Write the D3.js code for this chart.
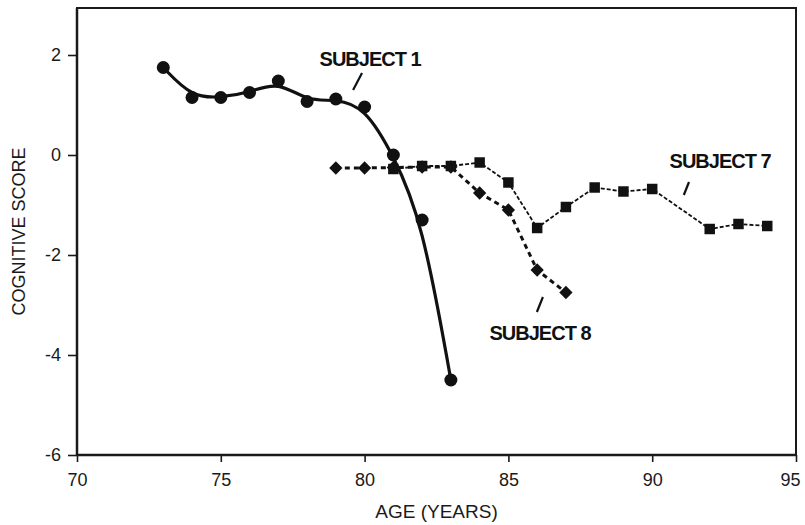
<!DOCTYPE html>
<html>
<head>
<meta charset="utf-8">
<script src="https://cdn.jsdelivr.net/npm/d3@7"></script>
<style>
  html, body { margin: 0; padding: 0; background: #fff; }
  svg { display: block; font-family: "Liberation Sans", Arial, Helvetica, sans-serif; }
</style>
</head>
<body>
<svg id="chart" width="805" height="525"></svg>
<script>
// Axis ticks
const xTicks = [70, 75, 80, 85, 90, 95];
const yTicks = [-6, -4, -2, 0, 2];

// Subject 1: rapid late decline
const subject1Age   = [73, 74, 75, 76, 77, 78, 79, 80, 81, 82, 83];
const subject1Score = [1.75, 1.15, 1.15, 1.25, 1.48, 1.07, 1.12, 0.96, 0.0, -1.3, -4.5];

// Subject 7: long, fluctuating course
const subject7Age   = [81, 82, 83, 84, 85, 86, 87, 88, 89, 90, 92, 93, 94];
const subject7Score = [-0.28, -0.22, -0.22, -0.15, -0.55, -1.46, -1.04, -0.65, -0.73, -0.68, -1.48, -1.38, -1.42];

// Subject 8: stable, then declining
const subject8Age   = [79, 80, 81, 82, 83, 84, 85, 86, 87];
const subject8Score = [-0.26, -0.26, -0.25, -0.24, -0.24, -0.76, -1.1, -2.3, -2.75];

const subjectNames = ["SUBJECT 1", "SUBJECT 7", "SUBJECT 8"];

const svg = d3.select("#chart");
const W = 805, H = 525;
const margin = { top: 8, right: 9, bottom: 70, left: 77 };

const x = d3.scaleLinear().domain([70, 95]).range([margin.left, W - margin.right]);
const y = d3.scaleLinear().domain([-6, 2]).range([H - margin.bottom, 55]);

const zip = (a, b) => a.map((v, i) => ({ age: v, score: b[i] }));
const s1 = zip(subject1Age, subject1Score);
const s7 = zip(subject7Age, subject7Score);
const s8 = zip(subject8Age, subject8Score);

// Frame
svg.append("rect")
  .attr("x", margin.left).attr("y", margin.top)
  .attr("width", W - margin.right - margin.left)
  .attr("height", H - margin.bottom - margin.top)
  .attr("fill", "none").attr("stroke", "#1a1a1a").attr("stroke-width", 2);

// Axes
const yAxis = svg.append("g")
  .attr("transform", `translate(${margin.left},0)`)
  .call(d3.axisLeft(y).tickValues(yTicks).tickSize(9).tickPadding(7).tickSizeOuter(0)
        .tickFormat(d => d < 0 ? "-" + Math.abs(d) : d));
const xAxis = svg.append("g")
  .attr("transform", `translate(0,${H - margin.bottom})`)
  .call(d3.axisBottom(x).tickValues(xTicks).tickSize(7).tickPadding(11).tickSizeOuter(0));

[yAxis, xAxis].forEach(g => {
  g.select(".domain").remove();
  g.selectAll(".tick line").attr("stroke", "#1a1a1a").attr("stroke-width", 1.6);
  g.selectAll(".tick text").attr("fill", "#1a1a1a").style("font-size", "18px")
    .style("font-family", '"Liberation Sans", Arial, sans-serif');
});
// keep the last age label inside the page
xAxis.selectAll(".tick text").filter(d => d === 95).attr("dx", -6);

// Axis lines (drawn heavier than the frame)
svg.append("line")
  .attr("x1", margin.left).attr("x2", margin.left)
  .attr("y1", margin.top).attr("y2", H - margin.bottom)
  .attr("stroke", "#1a1a1a").attr("stroke-width", 2.5);
svg.append("line")
  .attr("x1", margin.left).attr("x2", W - margin.right)
  .attr("y1", H - margin.bottom).attr("y2", H - margin.bottom)
  .attr("stroke", "#1a1a1a").attr("stroke-width", 2.5);

// Axis titles
svg.append("text")
  .attr("x", (x(70) + x(95)) / 2).attr("y", 518)
  .attr("text-anchor", "middle").attr("fill", "#1a1a1a")
  .style("font-size", "19px").text("AGE (YEARS)");
svg.append("text")
  .attr("transform", `translate(25,${(y(2.94) + y(-6)) / 2}) rotate(-90)`)
  .attr("text-anchor", "middle").attr("fill", "#1a1a1a")
  .style("font-size", "18px").text("COGNITIVE SCORE");

const ink = "#111";

// Subject 8: dashed line with diamonds
svg.append("path").datum(s8)
  .attr("fill", "none").attr("stroke", ink).attr("stroke-width", 3)
  .attr("stroke-dasharray", "5,4")
  .attr("d", d3.line().x(d => x(d.age)).y(d => y(d.score)));
svg.append("g").selectAll("path").data(s8).join("path")
  .attr("transform", d => `translate(${x(d.age)},${y(d.score)}) rotate(45)`)
  .attr("d", d3.symbol(d3.symbolSquare, 88)())
  .attr("fill", ink);

// Subject 7: thin dashed line with squares
svg.append("path").datum(s7)
  .attr("fill", "none").attr("stroke", ink).attr("stroke-width", 1.8)
  .attr("stroke-dasharray", "4,2")
  .attr("d", d3.line().x(d => x(d.age)).y(d => y(d.score)));
svg.append("g").selectAll("path").data(s7).join("path")
  .attr("transform", d => `translate(${x(d.age)},${y(d.score)})`)
  .attr("d", d3.symbol(d3.symbolSquare, 110)())
  .attr("fill", ink);

// Subject 1: smoothed solid line with dots
svg.append("path").datum(s1)
  .attr("fill", "none").attr("stroke", ink).attr("stroke-width", 3.2)
  .attr("d", d3.line().x(d => x(d.age)).y(d => y(d.score)).curve(d3.curveBasis));
svg.append("g").selectAll("circle").data(s1).join("circle")
  .attr("cx", d => x(d.age)).attr("cy", d => y(d.score)).attr("r", 6.5)
  .attr("fill", ink);

// Subject labels with short leader strokes
const labelLayout = [
  { text: subjectNames[0], cx: 80.19, base: 1.78, lead: [[79.6, 1.3], [79.91, 1.64]] },
  { text: subjectNames[1], cx: 92.36, base: -0.26, lead: [[91.1, -0.8], [91.28, -0.54]] },
  { text: subjectNames[2], cx: 86.1, base: -3.7, lead: [[85.99, -3.14], [86.2, -2.84]] }
];
const lab = svg.append("g");
labelLayout.forEach(l => {
  lab.append("text")
    .attr("x", x(l.cx)).attr("y", y(l.base))
    .attr("text-anchor", "middle").attr("fill", ink)
    .style("font-size", "20px").style("font-weight", "bold")
    .style("letter-spacing", "-1px")
    .text(l.text);
  lab.append("line")
    .attr("x1", x(l.lead[0][0])).attr("y1", y(l.lead[0][1]))
    .attr("x2", x(l.lead[1][0])).attr("y2", y(l.lead[1][1]))
    .attr("stroke", ink).attr("stroke-width", 2.2);
});
</script>
</body>
</html>
